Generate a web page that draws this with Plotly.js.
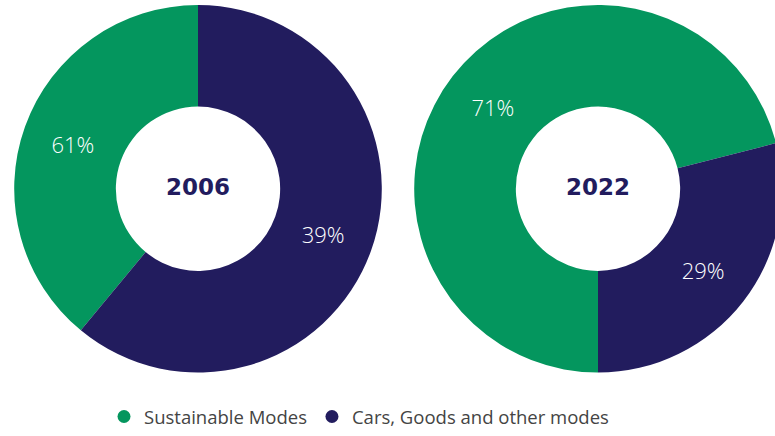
<!DOCTYPE html>
<html>
<head>
<meta charset="utf-8">
<script src="https://cdn.plot.ly/plotly-3.0.1.min.js"></script>
<style>
  html, body { margin: 0; padding: 0; overflow: hidden; background: #ffffff; }
  #chart { width: 790px; height: 436px; }
</style>
</head>
<body>
<div id="chart"></div>
<script>
// Data
const categories = ["Sustainable Modes", "Cars, Goods and other modes"];
const years = ["2006", "2022"];
// Slice sizes as drawn (share of the ring, %)
const sizes2006 = [39, 61];
const sizes2022 = [71, 29];
// Printed labels on the slices
const labels2006 = ["61%", "39%"];
const labels2022 = ["71%", "29%"];

const colors = ["#04965E", "#221C5E"];
const W = 790, H = 436;

function pieTrace(sizes, labels, rotation, dom) {
  return {
    type: "pie",
    labels: categories,
    values: sizes,
    text: labels,
    textinfo: "text",
    textposition: "inside",
    insidetextorientation: "horizontal",
    textfont: { family: "Open Sans", size: 22, color: "#ffffff", weight: 300 },
    hole: 0.447,
    sort: false,
    direction: "clockwise",
    rotation: rotation,
    marker: { colors: colors, line: { width: 0 } },
    domain: dom,
    showlegend: false,
    hoverinfo: "skip"
  };
}

const sum2006 = sizes2006.reduce((a, b) => a + b, 0);
const rot2006 = 360 * (1 - sizes2006[0] / sum2006);

const yDom = [1 - 376 / H, 1 - 5 / H];
const traces = [
  pieTrace(sizes2006, labels2006, rot2006, { x: [12.5 / W, 383.5 / W], y: yDom }),
  pieTrace(sizes2022, labels2022, 180, { x: [412.5 / W, 783.5 / W], y: yDom })
];

// legend entries with round markers
categories.forEach((c, i) => {
  traces.push({
    type: "scatter",
    mode: "markers",
    x: [null], y: [null],
    name: c,
    marker: { color: colors[i], size: 13, symbol: "circle" },
    hoverinfo: "skip"
  });
});

const centerFont = { family: "DejaVu Sans", size: 23, color: "#221C5E", weight: 700 };

const layout = {
  width: W,
  height: H,
  margin: { l: 0, r: 0, t: 0, b: 0 },
  paper_bgcolor: "#ffffff",
  plot_bgcolor: "rgba(0,0,0,0)",
  xaxis: { visible: false },
  yaxis: { visible: false },
  showlegend: true,
  legend: {
    orientation: "h",
    x: 359 / W,
    xanchor: "center",
    y: 1 - 421 / H,
    yanchor: "middle",
    font: { family: "Open Sans", size: 18.5, color: "#444444" },
    bgcolor: "rgba(0,0,0,0)"
  },
  annotations: [
    { text: years[0], x: 198 / W, y: 1 - 189 / H, xref: "paper", yref: "paper",
      xanchor: "center", yanchor: "middle", showarrow: false, font: centerFont },
    { text: years[1], x: 598 / W, y: 1 - 189 / H, xref: "paper", yref: "paper",
      xanchor: "center", yanchor: "middle", showarrow: false, font: centerFont }
  ]
};

Plotly.newPlot("chart", traces, layout, { displayModeBar: false, staticPlot: true });
</script>
</body>
</html>
